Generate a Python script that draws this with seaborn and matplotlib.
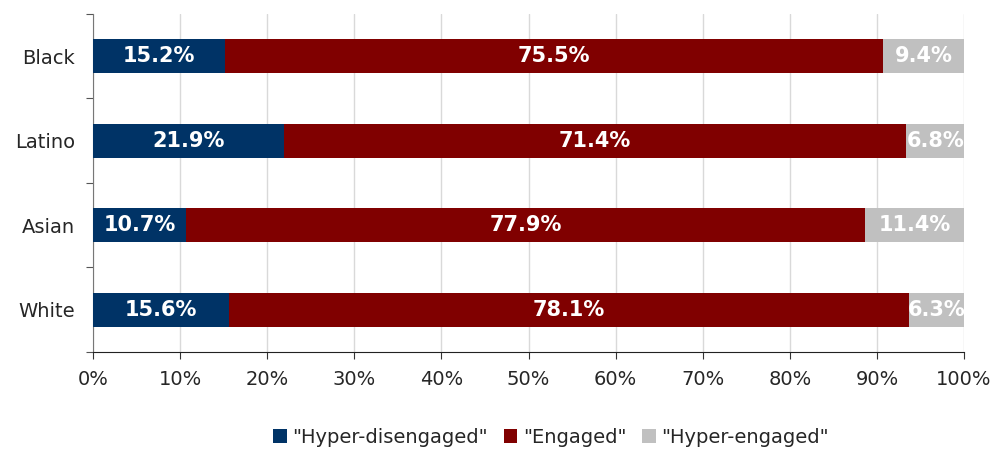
import numpy as np
import pandas as pd
import seaborn as sns
import matplotlib.pyplot as plt
from matplotlib.patches import Patch

sns.set_style("white")
plt.rcParams['font.family'] = ['DejaVu Sans']

groups = ["Black", "Latino", "Asian", "White"]
hyper_dis = [15.2, 21.9, 10.7, 15.6]
engaged = [75.5, 71.4, 77.9, 78.1]
hyper_eng = [9.4, 6.8, 11.4, 6.3]

series = ['"Hyper-disengaged"', '"Engaged"', '"Hyper-engaged"']
colors = ["#003366", "#800000", "#C0C0C0"]

df = pd.DataFrame({"group": groups, "hd": hyper_dis, "en": engaged, "he": hyper_eng})
df["c1"] = df["hd"]
df["c2"] = df["hd"] + df["en"]
df["c3"] = df["c2"] + df["he"]

fig = plt.figure(figsize=(10, 4.5), dpi=100)
ax = fig.add_axes([0.093, 0.218, 0.871, 0.751])

# stacked bars drawn as overlapping cumulative totals
for col, c in zip(["c3", "c2", "c1"], colors[::-1]):
    sns.barplot(data=df, x=col, y="group", order=groups, color=c,
                width=0.4, ax=ax, saturation=1, linewidth=0, zorder=3)

ax.set_xlim(0, 100)
ax.set_ylim(3.5, -0.5)
ax.set_xticks(np.arange(0, 101, 10))
ax.set_xticklabels([f"{v}%" for v in range(0, 101, 10)], fontsize=14)
ax.xaxis.grid(True, color="#d9d9d9", linewidth=1, zorder=0)
ax.set_xlabel("")
ax.set_ylabel("")

# category boundary ticks on y axis, labels at the centres
ax.set_yticks(np.arange(-0.5, 4, 1))
ax.set_yticklabels([])
ax.set_yticks(range(len(groups)), minor=True)
ax.set_yticklabels(groups, minor=True, fontsize=14)
ax.tick_params(axis="y", which="major", length=5, direction="out", left=True, color="#555555")
ax.tick_params(axis="y", which="minor", length=0, pad=13)
ax.tick_params(axis="x", length=5, direction="out", bottom=True, color="#333333", pad=8)

for s in ["top", "right"]:
    ax.spines[s].set_visible(False)
ax.spines["left"].set_color("#777777")
ax.spines["bottom"].set_color("#222222")

# segment labels
for i, row in df.iterrows():
    starts = [0, row["c1"], row["c2"]]
    widths = [row["hd"], row["en"], row["he"]]
    for s, w in zip(starts, widths):
        ax.text(s + w / 2, i, f"{w:.1f}%", ha="center", va="center",
                color="white", fontsize=15, fontweight="bold", zorder=5)

handles = [Patch(facecolor=c, edgecolor="none") for c in colors]
fig.legend(handles, series, loc="center", bbox_to_anchor=(0.551, 0.028), ncol=3,
           frameon=False, fontsize=14, handlelength=0.7, handleheight=0.7,
           handletextpad=0.3, columnspacing=0.8)

plt.savefig("out.png", dpi=100)
